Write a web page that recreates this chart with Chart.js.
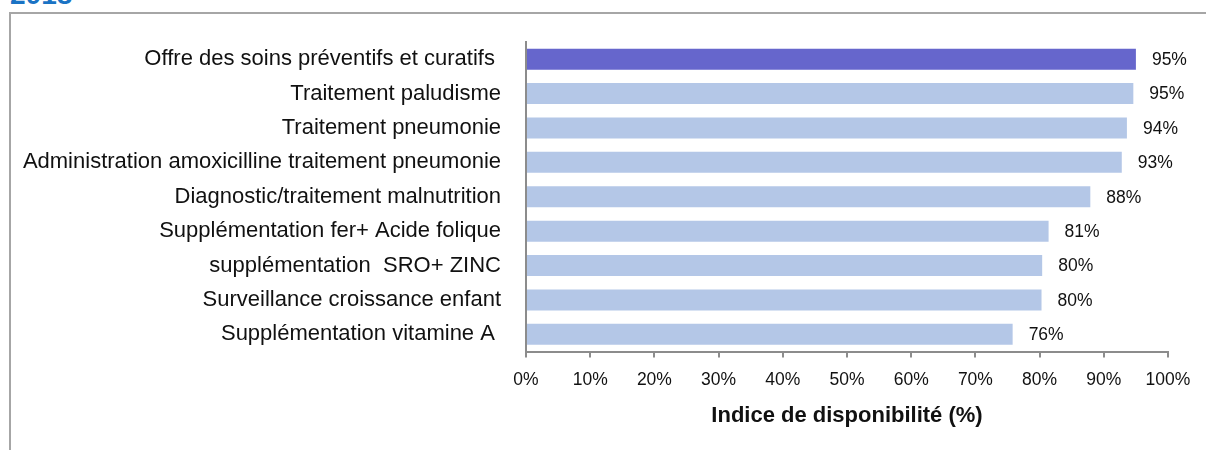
<!DOCTYPE html>
<html>
<head>
<meta charset="utf-8">
<script src="https://cdn.jsdelivr.net/npm/chart.js@4/dist/chart.umd.min.js"></script>
<style>
  body { margin: 0; background: #fff; font-family: "Liberation Sans", Arial, sans-serif; }
  #page { position: relative; width: 1206px; height: 450px; overflow: hidden; }
  #frame { position: absolute; left: 9px; top: 12px; width: 1206px; height: 450px; border-left: 2px solid #a6a6a6; border-top: 2px solid #a6a6a6; }
  #year { position: absolute; left: 10px; top: -19px; font-size: 28px; line-height: 28px; font-weight: bold; color: #1a73c4; }
  #chart { position: absolute; left: 0; top: 0; }
</style>
</head>
<body>
<div id="page">
  <div id="year">2018</div>
  <div id="frame"></div>
  <canvas id="chart" width="1206" height="450"></canvas>
</div>
<script>
let categories = [
  "Offre des soins préventifs et curatifs ",
  "Traitement paludisme",
  "Traitement pneumonie",
  "Administration amoxicilline traitement pneumonie",
  "Diagnostic/traitement malnutrition",
  "Supplémentation fer+ Acide folique",
  "supplémentation  SRO+ ZINC",
  "Surveillance croissance enfant",
  "Supplémentation vitamine A "
];
let values = [95.0, 94.6, 93.6, 92.8, 87.9, 81.4, 80.4, 80.3, 75.8];
let barColors = ["#6666cc", "#b4c7e7", "#b4c7e7", "#b4c7e7", "#b4c7e7", "#b4c7e7", "#b4c7e7", "#b4c7e7", "#b4c7e7"];
let xTicks = [0, 10, 20, 30, 40, 50, 60, 70, 80, 90, 100];
let axisTitle = "Indice de disponibilité (%)";

let textColor = "#111111";
let axisColor = "#8c8c8c";

// value labels at the end of each bar
let valueLabels = {
  id: "valueLabels",
  afterDatasetsDraw(chart) {
    let c = chart.ctx;
    let meta = chart.getDatasetMeta(0);
    c.save();
    c.font = "17.5px 'Liberation Sans', Arial, sans-serif";
    c.fillStyle = textColor;
    c.textAlign = "left";
    c.textBaseline = "middle";
    meta.data.forEach(function (bar, i) {
      c.fillText(Math.round(values[i]) + "%", bar.x + 16, bar.y + 1);
    });
    c.restore();
  }
};

let chart = new Chart(document.getElementById("chart"), {
  type: "bar",
  data: {
    labels: categories,
    datasets: [{
      data: values,
      backgroundColor: barColors,
      borderWidth: 0,
      categoryPercentage: 1,
      barPercentage: 0.61
    }]
  },
  options: {
    indexAxis: "y",
    responsive: false,
    devicePixelRatio: 1,
    animation: false,
    layout: { padding: { left: 0, top: 42, right: 38, bottom: 0 } },
    plugins: { legend: { display: false }, tooltip: { enabled: false } },
    scales: {
      y: {
        grid: { display: false },
        border: { display: true, color: axisColor, width: 2 },
        ticks: {
          color: textColor,
          padding: 17,
          font: { family: "'Liberation Sans', Arial, sans-serif", size: 22 }
        },
        afterFit: function (scale) { scale.width = 526; }
      },
      x: {
        min: 0,
        max: 100,
        afterBuildTicks: function (scale) {
          scale.ticks = xTicks.map(function (v) { return { value: v }; });
        },
        grid: { drawOnChartArea: false, drawTicks: true, tickLength: 6, color: axisColor, lineWidth: 2 },
        border: { display: true, color: axisColor, width: 2 },
        ticks: {
          color: textColor,
          padding: 12,
          font: { family: "'Liberation Sans', Arial, sans-serif", size: 17.5 },
          callback: function (v) { return v + "%"; }
        },
        title: {
          display: true,
          text: axisTitle,
          color: textColor,
          padding: { top: 0, bottom: 21 },
          font: { family: "'Liberation Sans', Arial, sans-serif", size: 22, weight: "bold" }
        },
        afterFit: function (scale) { scale.height = 98.5; }
      }
    }
  },
  plugins: [valueLabels]
});
</script>
</body>
</html>
